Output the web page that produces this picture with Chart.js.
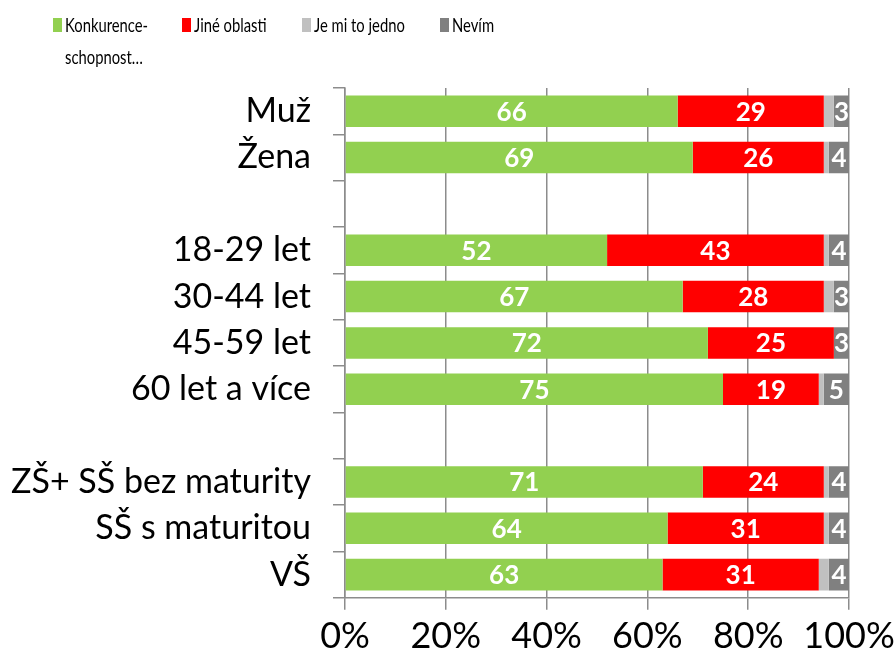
<!DOCTYPE html>
<html>
<head>
<meta charset="utf-8">
<script src="https://cdn.jsdelivr.net/npm/chart.js@4"></script>
<style>
    html, body { margin: 0; padding: 0; background: #fff; }
    #wrap { position: relative; width: 895px; height: 663px; }
    #legend { position: absolute; left: 0; top: 0; width: 895px; height: 80px;
        font-family: 'Lato', sans-serif; font-size: 20px; color: #000; }
    .item { position: absolute; top: 8px; line-height: 32px; }
    .box { position: absolute; left: 0; top: 10px; width: 9px; height: 14px; }
    .txt { position: absolute; left: 12px; top: 0; white-space: nowrap;
        transform: scaleX(0.74); transform-origin: left top; }
</style>
</head>
<body>
<div id="wrap">
    <canvas id="chart" width="895" height="663"></canvas>
    <div id="legend"></div>
</div>
<script>
'use strict';

// categories (empty strings are the gaps between groups)
const categories = ['Muž', 'Žena', '', '18-29 let', '30-44 let', '45-59 let', '60 let a více',
    '', 'ZŠ+ SŠ bez maturity', 'SŠ s maturitou', 'VŠ'];

const seriesNames = ['Konkurenceschopnost…', 'Jiné oblasti', 'Je mi to jedno', 'Nevím'];
const legendText = ['Konkurence-<br>schopnost…', 'Jiné oblasti', 'Je mi to jedno', 'Nevím'];
const seriesColors = ['#92D050', '#FF0000', '#C0C0C0', '#808080'];

const konkurence = [66, 69, null, 52, 67, 72, 75, null, 71, 64, 63];
const jineOblasti = [29, 26, null, 43, 28, 25, 19, null, 24, 31, 31];
const jedno = [2, 1, null, 1, 2, 0, 1, null, 1, 1, 2];
const nevim = [3, 4, null, 4, 3, 3, 5, null, 4, 4, 4];

const xTicks = [0, 20, 40, 60, 80, 100];

const seriesValues = [konkurence, jineOblasti, jedno, nevim];
const showLabels = [true, true, false, true];

// legend positions (left edge of the colour box)
const legendX = [53, 182, 302, 440];
const legendEl = document.getElementById('legend');
legendText.forEach((t, i) => {
    const d = document.createElement('div');
    d.className = 'item';
    d.style.left = legendX[i] + 'px';
    d.innerHTML = '<span class="box" style="background:' + seriesColors[i] + '"></span>' +
        '<span class="txt">' + t + '</span>';
    legendEl.appendChild(d);
});

// white numbers in the middle of each segment
const barLabels = {
    id: 'barLabels',
    afterDatasetsDraw(chart) {
        const ctx = chart.ctx;
        ctx.save();
        ctx.fillStyle = '#fff';
        ctx.font = 'bold 26px Lato, sans-serif';
        ctx.textAlign = 'center';
        ctx.textBaseline = 'middle';
        chart.data.datasets.forEach((ds, i) => {
            if (!showLabels[i]) return;
            const meta = chart.getDatasetMeta(i);
            meta.data.forEach((bar, j) => {
                const v = ds.data[j];
                if (v === null || v === 0) return;
                ctx.fillText(String(v), (bar.x + bar.base) / 2, bar.y + 1);
            });
        });
        ctx.restore();
    }
};

const gridColor = '#8c8c8c';

new Chart(document.getElementById('chart'), {
    type: 'bar',
    data: {
        labels: categories,
        datasets: seriesNames.map((name, i) => ({
            label: name,
            data: seriesValues[i],
            backgroundColor: seriesColors[i],
            borderWidth: 0,
            barPercentage: 0.68,
            categoryPercentage: 1
        }))
    },
    options: {
        responsive: false,
        animation: false,
        indexAxis: 'y',
        layout: {
            padding: { top: 88, right: 46, bottom: 0, left: 0 }
        },
        scales: {
            x: {
                stacked: true,
                min: 0,
                max: 100,
                afterBuildTicks(scale) {
                    scale.ticks = xTicks.map(v => ({ value: v }));
                },
                afterFit(scale) {
                    // let the 100% label overhang the plot like the original
                    scale.paddingLeft = 0;
                    scale.paddingRight = 0;
                },
                ticks: {
                    callback: v => v + '%',
                    color: '#000',
                    padding: 5,
                    maxRotation: 0,
                    font: { family: 'Lato', size: 36 }
                },
                grid: {
                    color: gridColor,
                    lineWidth: 1.5,
                    tickLength: 12
                },
                border: { color: gridColor, width: 1.5 }
            },
            y: {
                stacked: true,
                afterFit(scale) {
                    scale.width = 345;
                },
                ticks: {
                    color: '#000',
                    padding: 22,
                    autoSkip: false,
                    font: { family: 'Lato', size: 34 }
                },
                grid: {
                    color: gridColor,
                    lineWidth: 1.5,
                    drawOnChartArea: false,
                    tickLength: 12
                },
                border: { color: gridColor, width: 1.5 }
            }
        },
        plugins: {
            legend: { display: false },
            tooltip: { enabled: false }
        }
    },
    plugins: [barLabels]
});
</script>
</body>
</html>
